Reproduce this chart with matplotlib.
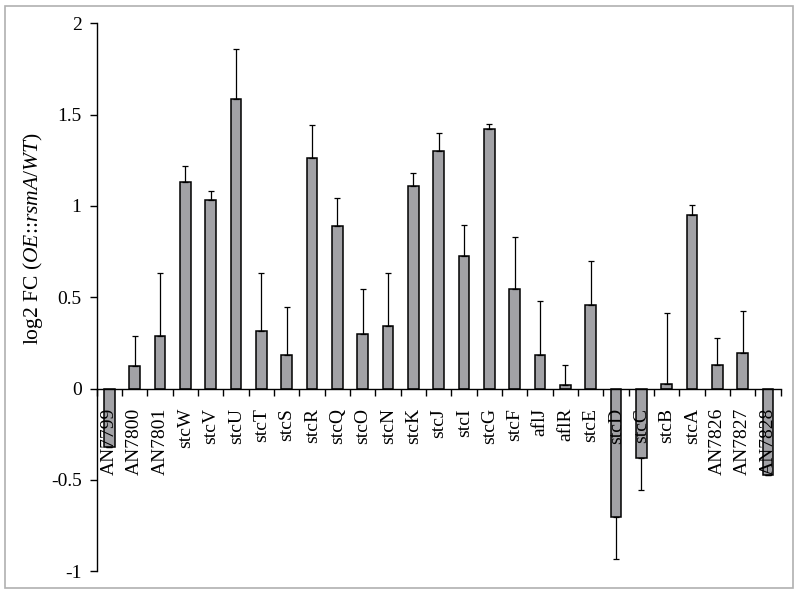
"""
log2 fold change of the sterigmatocystin cluster genes (OE::rsmA vs WT)
"""

import numpy as np
import matplotlib
matplotlib.use("Agg")
import matplotlib.pyplot as plt
from matplotlib.patches import Rectangle
from matplotlib.ticker import FixedLocator, NullFormatter


# =====================================================
# Data
# =====================================================

genes = [
    "AN7799", "AN7800", "AN7801", "stcW", "stcV", "stcU", "stcT",
    "stcS", "stcR", "stcQ", "stcO", "stcN", "stcK", "stcJ", "stcI",
    "stcG", "stcF", "aflJ", "aflR", "stcE", "stcD", "stcC", "stcB",
    "stcA", "AN7826", "AN7827", "AN7828",
]

log2_fc = [
    -0.32, 0.126, 0.285, 1.131, 1.034, 1.587, 0.314,
    0.184, 1.264, 0.891, 0.296, 0.345, 1.109, 1.299, 0.723,
    1.423, 0.546, 0.181, 0.018, 0.459, -0.705, -0.378, 0.024,
    0.950, 0.128, 0.194, -0.473,
]

error = [
    0.0, 0.16, 0.35, 0.088, 0.047, 0.27, 0.32,
    0.265, 0.18, 0.15, 0.25, 0.29, 0.07, 0.10, 0.17,
    0.025, 0.285, 0.30, 0.11, 0.24, 0.23, 0.175, 0.39,
    0.057, 0.15, 0.23, 0.0,
]

y_ticks = [-1, -0.5, 0, 0.5, 1, 1.5, 2]
y_tick_labels = ["-1", "-0.5", "0", "0.5", "1", "1.5", "2"]


# =====================================================
# Plot
# =====================================================

def plot_fold_change():

    plt.rcParams["font.family"] = "Liberation Serif"
    plt.rcParams["mathtext.fontset"] = "custom"
    plt.rcParams["mathtext.rm"] = "Liberation Serif"
    plt.rcParams["mathtext.it"] = "Liberation Serif:italic"

    fig = plt.figure(figsize=(8, 5.95), dpi=100)
    ax = fig.add_axes([0.121, 0.040, 0.855, 0.921])

    x = np.arange(len(genes))
    fc = np.array(log2_fc)
    err = np.array(error)

    # one-sided error bars, away from zero
    lower = np.where(fc < 0, err, 0)
    upper = np.where(fc >= 0, err, 0)

    ax.bar(
        x, fc, width=0.42,
        color="#a2a2a6", edgecolor="black", linewidth=1.1,
        zorder=1
    )

    ax.errorbar(
        x, fc, yerr=[lower, upper],
        fmt="none", ecolor="black", elinewidth=0.9,
        capsize=2.5, capthick=0.9, zorder=2
    )

    ax.set_xlim(-0.5, len(genes) - 0.5)
    ax.set_ylim(-1, 2)

    ax.set_yticks(y_ticks)
    ax.set_yticklabels(y_tick_labels, fontsize=14)
    ax.tick_params(axis="y", direction="out", length=5, width=1, pad=6)

    # x axis sits at zero, ticks between the bars, labels under each bar
    ax.spines["bottom"].set_position(("data", 0))
    ax.spines["top"].set_visible(False)
    ax.spines["right"].set_visible(False)
    ax.spines["left"].set_linewidth(1)
    ax.spines["bottom"].set_linewidth(1)

    ax.xaxis.set_major_locator(FixedLocator(np.arange(len(genes) + 1) - 0.5))
    ax.xaxis.set_major_formatter(NullFormatter())
    ax.set_xticks(x, minor=True)
    ax.set_xticklabels(genes, minor=True, rotation=90, fontsize=14)
    ax.tick_params(axis="x", which="major", direction="out", length=5, width=1)
    ax.tick_params(axis="x", which="minor", length=0, pad=14)

    ax.set_ylabel(
        r"log2 FC ($\mathit{OE}$::$\mathit{rsmA/WT}$)",
        fontsize=15.5
    )
    ax.yaxis.set_label_coords(-0.076, 0.606)

    # light frame round the whole picture
    fig.patches.append(
        Rectangle(
            (0.006, 0.012), 0.985, 0.978,
            transform=fig.transFigure, fill=False,
            edgecolor="#b0b0b0", linewidth=1.2
        )
    )

    fig.savefig("out.png", dpi=100)
    plt.close(fig)


# =====================================================
# Main
# =====================================================

if __name__ == "__main__":

    plot_fold_change()
